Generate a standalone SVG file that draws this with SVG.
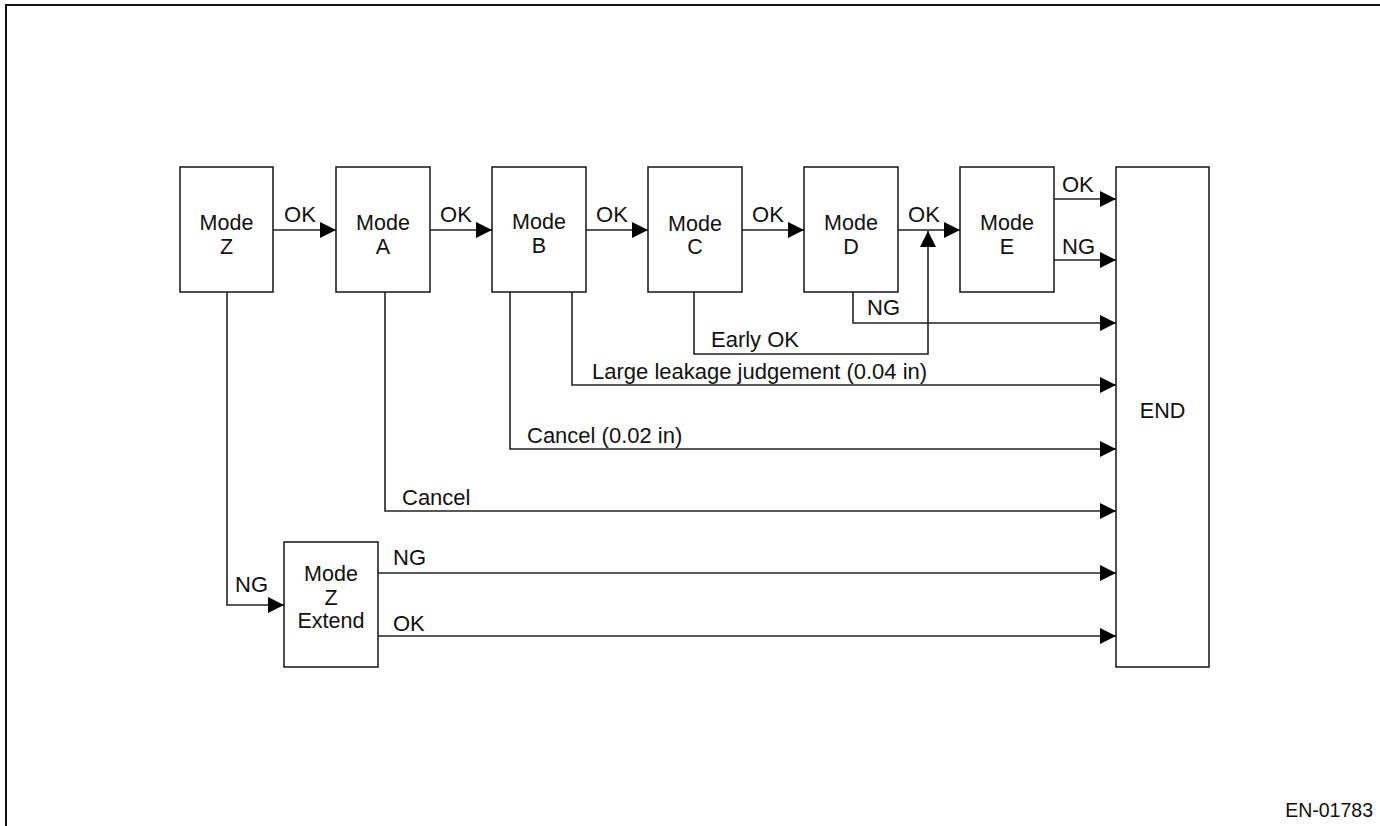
<svg xmlns="http://www.w3.org/2000/svg" width="1380" height="826" viewBox="0 0 1380 826">
<defs>
<style>
.box{fill:#fff;stroke:#222;stroke-width:1.6}
.ln{fill:none;stroke:#222;stroke-width:1.6}
.t{font-family:"Liberation Sans",Arial,sans-serif;font-size:22px;fill:#111}
.m{font-size:21.5px}
.c{text-anchor:middle}
</style>
<marker id="ah" markerUnits="userSpaceOnUse" markerWidth="17" markerHeight="17" viewBox="0 0 17 17" refX="16" refY="8.5" orient="auto">
<path d="M0,0.5 L16,8.5 L0,16.5 Z" fill="#000"/>
</marker>
</defs>
<rect width="1380" height="826" fill="#fff"/>
<path d="M6,826 V5 H1380" fill="none" stroke="#111" stroke-width="2"/>

<g id="modeZ"><rect class="box" x="180" y="167" width="93" height="125"/><text class="t m c" x="226.5" y="230">Mode</text><text class="t m c" x="226.5" y="254">Z</text></g>
<g id="modeA"><rect class="box" x="336" y="167" width="94" height="125"/><text class="t m c" x="383" y="230">Mode</text><text class="t m c" x="383" y="254">A</text></g>
<g id="modeB"><rect class="box" x="492" y="167" width="94" height="125"/><text class="t m c" x="539" y="229">Mode</text><text class="t m c" x="539" y="253">B</text></g>
<g id="modeC"><rect class="box" x="648" y="167" width="94" height="125"/><text class="t m c" x="695" y="231">Mode</text><text class="t m c" x="695" y="254">C</text></g>
<g id="modeD"><rect class="box" x="804" y="167" width="94" height="125"/><text class="t m c" x="851" y="230">Mode</text><text class="t m c" x="851" y="254">D</text></g>
<g id="modeE"><rect class="box" x="960" y="167" width="94" height="125"/><text class="t m c" x="1007" y="230">Mode</text><text class="t m c" x="1007" y="254">E</text></g>
<g id="end"><rect class="box" x="1116" y="167" width="93" height="500"/><text class="t m c" x="1162.5" y="418">END</text></g>
<g id="modeZExtend"><rect class="box" x="284" y="542" width="94" height="125"/><text class="t m c" x="331" y="581">Mode</text><text class="t m c" x="331" y="605">Z</text><text class="t m c" x="331" y="628">Extend</text></g>

<g id="connectors">
<path class="ln" d="M273,230 H336" marker-end="url(#ah)"/>
<path class="ln" d="M430,230 H492" marker-end="url(#ah)"/>
<path class="ln" d="M586,230 H648" marker-end="url(#ah)"/>
<path class="ln" d="M742,230 H804" marker-end="url(#ah)"/>
<path class="ln" d="M898,230 H960" marker-end="url(#ah)"/>
<path class="ln" d="M1054,199 H1116" marker-end="url(#ah)"/>
<path class="ln" d="M1054,260 H1116" marker-end="url(#ah)"/>
<path class="ln" d="M853,292 V323 H1116" marker-end="url(#ah)"/>
<path class="ln" d="M694,292 V354 H928 V231" marker-end="url(#ah)"/>
<path class="ln" d="M572,292 V385 H1116" marker-end="url(#ah)"/>
<path class="ln" d="M510,292 V449 H1116" marker-end="url(#ah)"/>
<path class="ln" d="M385,292 V511 H1116" marker-end="url(#ah)"/>
<path class="ln" d="M227,292 V605 H284" marker-end="url(#ah)"/>
<path class="ln" d="M378,573 H1116" marker-end="url(#ah)"/>
<path class="ln" d="M378,636 H1116" marker-end="url(#ah)"/>
</g>

<g id="labels">
<text class="t c" x="300" y="222">OK</text>
<text class="t c" x="456" y="222">OK</text>
<text class="t c" x="612" y="222">OK</text>
<text class="t c" x="768" y="222">OK</text>
<text class="t c" x="924" y="222">OK</text>
<text class="t" x="1062" y="192">OK</text>
<text class="t" x="1062" y="254">NG</text>
<text class="t" x="867" y="315">NG</text>
<text class="t" x="711" y="347">Early OK</text>
<text class="t" x="592" y="379">Large leakage judgement (0.04 in)</text>
<text class="t" x="527" y="443">Cancel (0.02 in)</text>
<text class="t" x="402" y="505">Cancel</text>
<text class="t" x="235" y="592">NG</text>
<text class="t" x="393" y="565">NG</text>
<text class="t" x="393" y="631">OK</text>
<text class="t" x="1373" y="817" text-anchor="end" style="font-size:19.5px">EN-01783</text>
</g>
</svg>
